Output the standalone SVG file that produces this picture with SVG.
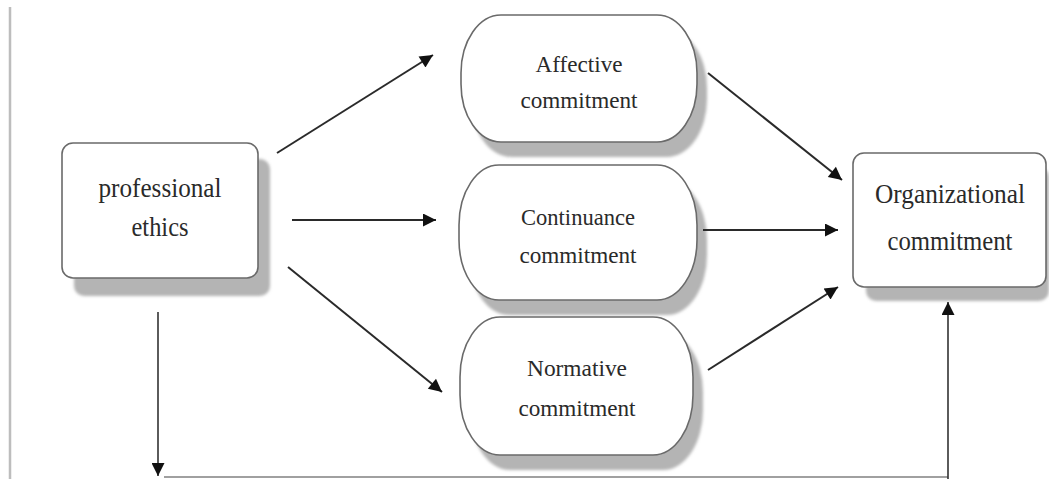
<svg xmlns="http://www.w3.org/2000/svg" width="1049" height="479" viewBox="0 0 1049 479">
<style>
.box{fill:#ffffff;stroke:#6a6a6a;stroke-width:1.6}
.shadow{fill:#b4b4b4;filter:url(#blur)}
.t{font-family:"Liberation Serif","Times New Roman",serif;fill:#2a2a2a;text-anchor:middle}
.big{font-size:27px}
.mid{font-size:24px}
.conn{stroke:#2a2a2a;stroke-width:2;fill:none}
.thin{stroke:#333;stroke-width:1.6;fill:none}
</style>
<defs>
<filter id="blur" x="-10%" y="-10%" width="120%" height="120%"><feGaussianBlur stdDeviation="1.5"/></filter>
<marker id="ahB" viewBox="0 0 10 10" refX="10" refY="5" markerWidth="15" markerHeight="13" markerUnits="userSpaceOnUse" orient="auto">
<path d="M0,0 L10,5 L0,10 z" fill="#111"/>
</marker>
</defs>
<rect width="1049" height="479" fill="#ffffff"/>
<line x1="10" y1="7" x2="10" y2="479" stroke="#bdbdbd" stroke-width="2.5"/>

<g id="professional-ethics">
<rect class="shadow" x="74" y="159" width="196" height="137" rx="10"/>
<rect class="box" x="62" y="143" width="196" height="135" rx="11"/>
<text class="t big" x="160" y="197" textLength="123" lengthAdjust="spacingAndGlyphs">professional</text>
<text class="t big" x="160" y="236" textLength="57" lengthAdjust="spacingAndGlyphs">ethics</text>
</g>

<g id="affective">
<rect class="shadow" x="471" y="30" width="236" height="127" rx="40" ry="58"/>
<rect class="box" x="461" y="15" width="236" height="127" rx="40" ry="58"/>
<text class="t mid" x="579" y="72" textLength="87" lengthAdjust="spacingAndGlyphs">Affective</text>
<text class="t mid" x="579" y="108" textLength="117" lengthAdjust="spacingAndGlyphs">commitment</text>
</g>

<g id="continuance">
<rect class="shadow" x="469" y="180" width="238" height="135" rx="40" ry="60"/>
<rect class="box" x="459" y="165" width="238" height="135" rx="40" ry="60"/>
<text class="t mid" x="578" y="225" textLength="114" lengthAdjust="spacingAndGlyphs">Continuance</text>
<text class="t mid" x="578" y="263" textLength="117" lengthAdjust="spacingAndGlyphs">commitment</text>
</g>

<g id="normative">
<rect class="shadow" x="470" y="332" width="233" height="138" rx="40" ry="60"/>
<rect class="box" x="460" y="317" width="233" height="138" rx="40" ry="60"/>
<text class="t mid" x="577" y="376" textLength="100" lengthAdjust="spacingAndGlyphs">Normative</text>
<text class="t mid" x="577" y="416" textLength="117" lengthAdjust="spacingAndGlyphs">commitment</text>
</g>

<g id="organizational">
<rect class="shadow" x="866" y="167" width="183" height="134" rx="10"/>
<rect class="box" x="853" y="153" width="193" height="134" rx="11"/>
<text class="t big" x="950" y="203" textLength="150" lengthAdjust="spacingAndGlyphs">Organizational</text>
<text class="t big" x="950" y="250" textLength="125" lengthAdjust="spacingAndGlyphs">commitment</text>
</g>

<g id="connectors">
<line class="conn" x1="277" y1="153" x2="433" y2="55" marker-end="url(#ahB)"/>
<line class="conn" x1="292" y1="220" x2="436" y2="220" marker-end="url(#ahB)"/>
<line class="conn" x1="288" y1="267" x2="442" y2="392" marker-end="url(#ahB)"/>
<line class="conn" x1="708" y1="73" x2="842" y2="180" marker-end="url(#ahB)"/>
<line class="conn" x1="703" y1="230" x2="838" y2="230" marker-end="url(#ahB)"/>
<line class="conn" x1="708" y1="370" x2="838" y2="287" marker-end="url(#ahB)"/>
<line class="thin" x1="158" y1="312" x2="158" y2="476" marker-end="url(#ahB)"/>
<line x1="164" y1="477" x2="948" y2="477" stroke="#a0a0a0" stroke-width="2"/>
<line class="thin" x1="948" y1="479" x2="948" y2="302" marker-end="url(#ahB)"/>
</g>
</svg>
